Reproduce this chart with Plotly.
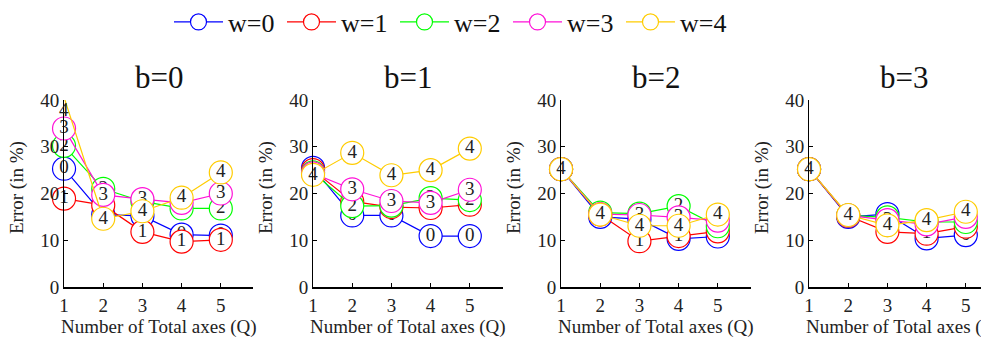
import plotly.graph_objects as go

# ---------------- data ----------------
Q = [1, 2, 3, 4, 5]
panels = ["b=0", "b=1", "b=2", "b=3"]
series_names = ["w=0", "w=1", "w=2", "w=3", "w=4"]
series_labels = ["0", "1", "2", "3", "4"]
colors = ["#0000FF", "#FF0000", "#00FF00", "#FF11D8", "#FFCC00"]

b0_w0 = [25.3, 15.5, 15.2, 11.2, 11.0]
b0_w1 = [18.9, 17.5, 11.8, 9.7, 10.1]
b0_w2 = [30.2, 21.0, 18.3, 16.8, 16.8]
b0_w3 = [33.9, 19.7, 18.8, 18.0, 20.0]
b0_w4 = [40.6, 14.6, 16.2, 19.1, 24.5]

b1_w0 = [25.5, 15.3, 15.3, 10.9, 10.9]
b1_w1 = [25.0, 18.3, 17.1, 16.9, 17.6]
b1_w2 = [24.5, 17.3, 17.4, 19.0, 18.6]
b1_w3 = [24.3, 20.9, 18.4, 18.0, 20.8]
b1_w4 = [24.0, 28.7, 23.9, 25.0, 29.6]

b2_w0 = [25.2, 15.0, 14.5, 10.3, 10.8]
b2_w1 = [25.2, 15.5, 9.8, 10.9, 11.9]
b2_w2 = [25.2, 15.9, 15.7, 17.3, 13.0]
b2_w3 = [25.2, 15.6, 15.4, 14.9, 14.2]
b2_w4 = [25.2, 15.5, 13.1, 13.1, 15.5]

b3_w0 = [25.2, 15.0, 15.6, 10.4, 11.1]
b3_w1 = [25.2, 15.2, 11.8, 11.4, 12.9]
b3_w2 = [25.2, 15.3, 14.9, 13.9, 13.9]
b3_w3 = [25.2, 15.3, 14.3, 13.4, 15.0]
b3_w4 = [25.2, 15.4, 13.2, 14.3, 16.1]

data = [
    [b0_w0, b0_w1, b0_w2, b0_w3, b0_w4],
    [b1_w0, b1_w1, b1_w2, b1_w3, b1_w4],
    [b2_w0, b2_w1, b2_w2, b2_w3, b2_w4],
    [b3_w0, b3_w1, b3_w2, b3_w3, b3_w4],
]
y_ticks = [0, 10, 20, 30, 40]
Y_MAX = 40

# ---------------- layout geometry (page px; page has an 8px body margin) ----------------
OFF = 8
W, H = 989 - OFF, 338 - OFF
FONT = "Liberation Serif"
px_left = [64 - OFF, 313 - OFF, 561 - OFF, 809 - OFF]
px_right = [253 - OFF, 503 - OFF, 751 - OFF, 989 - OFF]
unit = 39.2  # pixels per Q unit
y_bottom_px, y_top_px = 287 - OFF, 100 - OFF
ydom = [(H - y_bottom_px) / H, (H - y_top_px) / H]

fig = go.Figure()
annotations = []

for p, title in enumerate(panels):
    ax = "" if p == 0 else str(p + 1)
    for s, name in enumerate(series_names):
        fig.add_trace(go.Scatter(
            x=Q, y=data[p][s], mode="lines+markers+text",
            name=name, legendgroup=name, showlegend=(p == 0),
            text=[series_labels[s]] * len(Q), textposition="middle center",
            textfont=dict(family=FONT, size=19, color="#222"),
            line=dict(color=colors[s], width=1.2),
            marker=dict(symbol="circle", size=23, color="white",
                        line=dict(color=colors[s], width=1.2)),
            cliponaxis=False,
            xaxis="x" + ax, yaxis="y" + ax,
        ))
        # labels of points lying above the axis limit (marker not drawn)
        for xi, yi in zip(Q, data[p][s]):
            if yi > Y_MAX:
                annotations.append(dict(
                    x=xi, y=ydom[0] + yi / Y_MAX * (ydom[1] - ydom[0]),
                    xref="x" + ax, yref="paper", text=series_labels[s],
                    showarrow=False, font=dict(family=FONT, size=19, color="#222")))

    d0 = px_left[p] / W
    d1 = px_right[p] / W
    xr = [0.999, 1 + (px_right[p] - px_left[p]) / unit]
    common = dict(showgrid=False, zeroline=False, showline=True, linecolor="black",
                  ticks="inside", ticklen=4, tickcolor="black",
                  tickfont=dict(family=FONT, size=19, color="#222"), automargin=False)
    fig.layout["xaxis" + ax] = dict(domain=[d0, d1], range=xr, tickvals=Q,
                                   anchor="y" + ax, linewidth=1.5, **common)
    fig.layout["yaxis" + ax] = dict(domain=ydom, range=[0, Y_MAX], tickvals=y_ticks,
                                   anchor="x" + ax, linewidth=1, **common)
    cx = (px_left[p] + px_left[p] + 190) / 2 / W
    annotations.append(dict(x=cx, y=(H - (77 - OFF)) / H, xref="paper", yref="paper",
                            text=title, showarrow=False,
                            font=dict(family=FONT, size=31, color="#111"),
                            xanchor="center", yanchor="middle"))
    annotations.append(dict(x=cx, y=(H - (327 - OFF)) / H, xref="paper", yref="paper",
                            text="Number of Total axes (Q)", showarrow=False,
                            font=dict(family=FONT, size=19, color="#222"),
                            xanchor="center", yanchor="middle"))
    annotations.append(dict(x=(px_left[p] - 47) / W, y=(H - (188 - OFF)) / H,
                            xref="paper", yref="paper", text="Error (in %)",
                            textangle=-90, showarrow=False,
                            font=dict(family=FONT, size=19, color="#222"),
                            xanchor="center", yanchor="middle"))

fig.update_layout(
    width=W, height=H,
    margin=dict(l=0, r=0, t=0, b=0, autoexpand=False),
    paper_bgcolor="white", plot_bgcolor="white",
    font=dict(family=FONT),
    annotations=annotations,
    legend=dict(orientation="h", x=161 / W, y=(H - 14) / H, xanchor="left",
                yanchor="middle", font=dict(family=FONT, size=26, color="#111"),
                entrywidth=49, entrywidthmode="pixels", itemwidth=49,
                bgcolor="rgba(0,0,0,0)"),
)

fig.write_html("out.html")
